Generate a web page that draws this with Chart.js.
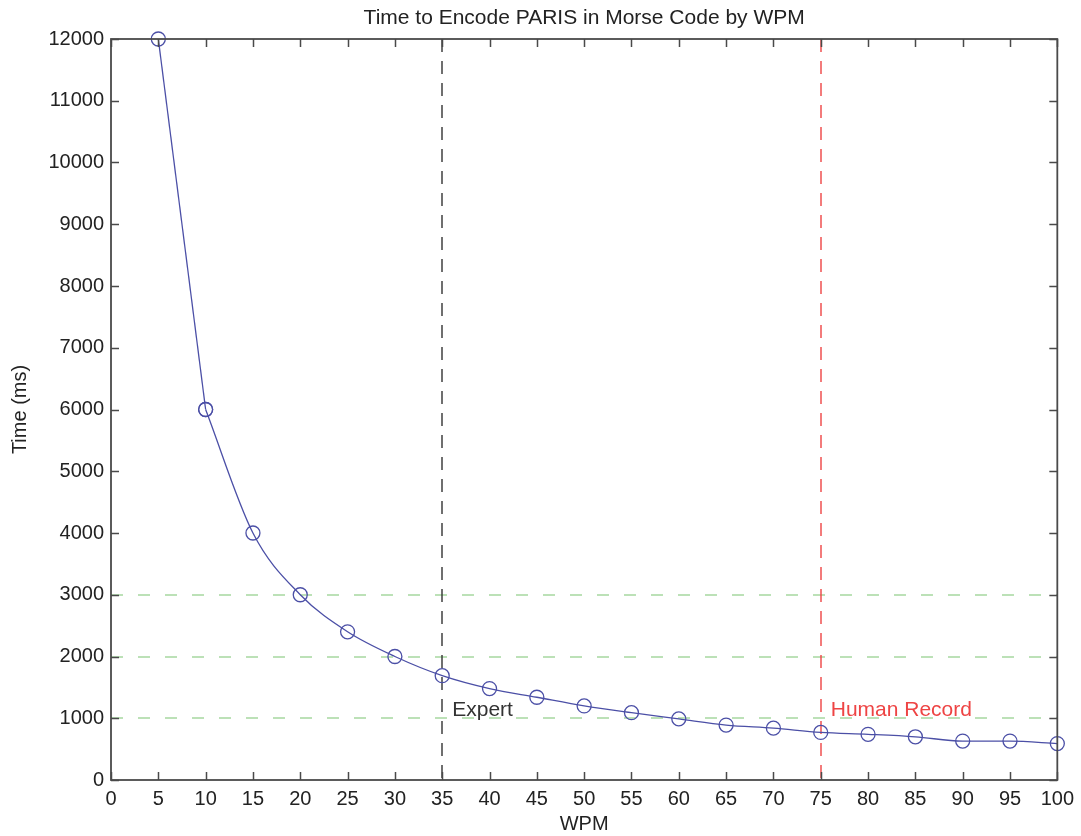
<!DOCTYPE html>
<html>
<head>
<meta charset="utf-8">
<title>Time to Encode PARIS in Morse Code by WPM</title>
<script src="https://cdn.jsdelivr.net/npm/chart.js@4.4.1/dist/chart.umd.min.js"></script>
<style>
  html, body { margin: 0; padding: 0; background: #fff; }
  #wrap { width: 1081px; height: 836px; }
</style>
</head>
<body>
<div id="wrap"><canvas id="morseChart" width="1081" height="836"></canvas></div>
<script>
// WPM sample points and the time (ms)
const wpm = [5, 10, 15, 20, 25, 30, 35, 40, 45, 50, 55, 60, 65, 70, 75, 80, 85, 90, 95, 100];
const timeMs = [12000, 6000, 4000, 3000, 2400, 2000, 1690, 1480, 1340, 1200, 1090, 990, 890, 840, 770, 740, 700, 630, 630, 590];

// reference levels and markers
const guideTimes = [1000, 2000, 3000];
const markerWpm = [35, 75];
const markerLabels = ["Expert", "Human Record"];
const chartTitle = "Time to Encode PARIS in Morse Code by WPM";

const FONT = "'Liberation Sans', Arial, Helvetica, sans-serif";
const axisColor = "#4a4a4a";
const lineColor = "#4b4fa6";
const markerColors = ["#333333", "#ee4444"];
const guideColor = "#a6d8a0";

const points = wpm.map((w, i) => ({ x: w, y: timeMs[i] }));

// MATLAB-like box with inward ticks, guides, annotations and a title centred on the axes
const matlabAxes = {
  id: "matlabAxes",
  beforeDatasetsDraw(chart) {
    const { ctx, chartArea: a, scales: { x, y } } = chart;
    ctx.save();
    ctx.lineWidth = 1.3;

    ctx.strokeStyle = guideColor;
    ctx.setLineDash([12, 15]);
    guideTimes.forEach(t => {
      const py = Math.round(y.getPixelForValue(t));
      ctx.beginPath();
      ctx.moveTo(a.left, py);
      ctx.lineTo(a.right, py);
      ctx.stroke();
    });

    ctx.lineWidth = 1.4;
    ctx.setLineDash([13, 9]);
    markerWpm.forEach((w, i) => {
      const px = Math.round(x.getPixelForValue(w));
      ctx.strokeStyle = markerColors[i];
      ctx.beginPath();
      ctx.moveTo(px, a.top);
      ctx.lineTo(px, a.bottom);
      ctx.stroke();
    });
    ctx.setLineDash([]);

    ctx.font = "21px " + FONT;
    ctx.textBaseline = "alphabetic";
    ctx.textAlign = "left";
    markerWpm.forEach((w, i) => {
      ctx.fillStyle = markerColors[i];
      ctx.fillText(markerLabels[i], x.getPixelForValue(w) + 10, y.getPixelForValue(guideTimes[0]) - 2);
    });
    ctx.restore();
  },
  afterDraw(chart) {
    const { ctx, chartArea: a, scales: { x, y } } = chart;
    const tl = 8;
    ctx.save();
    ctx.strokeStyle = axisColor;
    ctx.lineWidth = 1.5;
    ctx.beginPath();
    x.ticks.forEach(t => {
      const px = Math.round(x.getPixelForValue(t.value)) + 0.5;
      ctx.moveTo(px, a.bottom); ctx.lineTo(px, a.bottom - tl);
      ctx.moveTo(px, a.top); ctx.lineTo(px, a.top + tl);
    });
    y.ticks.forEach(t => {
      const py = Math.round(y.getPixelForValue(t.value)) + 0.5;
      ctx.moveTo(a.left, py); ctx.lineTo(a.left + tl, py);
      ctx.moveTo(a.right, py); ctx.lineTo(a.right - tl, py);
    });
    ctx.stroke();
    ctx.lineWidth = 1.8;
    ctx.strokeRect(a.left, a.top, a.right - a.left, a.bottom - a.top);

    ctx.fillStyle = "#222";
    ctx.font = "21px " + FONT;
    ctx.textAlign = "center";
    ctx.textBaseline = "middle";
    ctx.fillText(chartTitle, (a.left + a.right) / 2, a.top - 21);
    ctx.restore();
  }
};

const lineStyle = {
  showLine: true,
  clip: false,
  borderColor: lineColor,
  borderWidth: 1.3,
  pointStyle: "circle",
  pointRadius: 7,
  pointHoverRadius: 7,
  pointBorderWidth: 1.3,
  pointBorderColor: lineColor,
  pointBackgroundColor: "rgba(255,255,255,0)"
};

new Chart(document.getElementById("morseChart"), {
  type: "scatter",
  data: {
    datasets: [
      // steep first stretch is a straight segment
      Object.assign({ data: points.slice(0, 2), tension: 0 }, lineStyle),
      // the rest follows a smooth curve
      Object.assign({ data: points.slice(1), cubicInterpolationMode: "monotone" }, lineStyle)
    ]
  },
  options: {
    responsive: false,
    animation: false,
    events: [],
    layout: { padding: { left: 0, right: 23, top: 39, bottom: 0 } },
    plugins: {
      legend: { display: false },
      tooltip: { enabled: false },
      title: { display: false }
    },
    scales: {
      x: {
        type: "linear",
        min: 0, max: 100,
        grid: { display: false, drawTicks: false },
        border: { display: false },
        ticks: { stepSize: 5, color: "#222", padding: 7, maxRotation: 0, autoSkip: false,
                 callback: v => String(v),
                 font: { family: FONT, size: 20 } },
        title: { display: true, text: "WPM", color: "#222", padding: { top: 0, bottom: 0 },
                 font: { family: FONT, size: 20 } },
        afterFit: s => { s.height = 56; }
      },
      y: {
        type: "linear",
        min: 0, max: 12000,
        grid: { display: false, drawTicks: false },
        border: { display: false },
        ticks: { stepSize: 1000, color: "#222", padding: 7, autoSkip: false,
                 callback: v => String(v),
                 font: { family: FONT, size: 20 } },
        title: { display: true, text: "Time (ms)", color: "#222", padding: { top: 8, bottom: 0 },
                 font: { family: FONT, size: 20 } },
        afterFit: s => { s.width = 111; }
      }
    }
  },
  plugins: [matlabAxes]
});
</script>
</body>
</html>
